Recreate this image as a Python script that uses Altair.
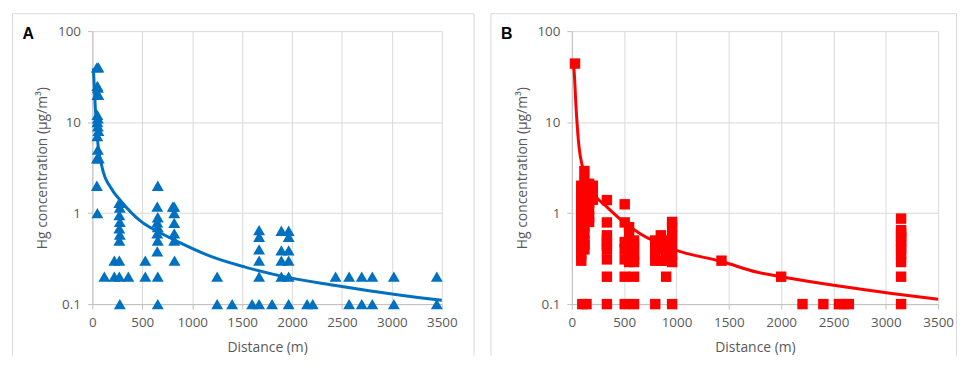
import altair as alt
import pandas as pd

# ---------------- Panel A (blue triangles) ----------------
A_dist = [45, 60, 50, 55, 50, 60, 50, 55, 50, 55, 60, 50, 55, 45, 65, 45, 50,
          120, 220, 220, 270, 270, 275, 270, 275, 270, 275, 270, 275, 270, 360,
          530, 530, 655, 650, 655, 650, 655, 650, 655, 650, 655, 655,
          820, 805, 820, 820, 820, 820, 823,
          1250, 1250, 1400, 1600,
          1670, 1670, 1670, 1670, 1670, 1670,
          1800, 1893, 1893, 1893, 1893, 1966, 1966, 1966, 1966, 1966, 1966,
          2151, 2207, 2436, 2572, 2572, 2698, 2698, 2804, 2804, 3020, 3020, 3450, 3450]
A_hg = [40, 40, 25, 24, 20, 20, 12, 11, 10, 9, 8, 7, 5, 4, 4, 2, 1,
        0.2, 0.3, 0.2, 0.3, 0.2, 0.1, 1.3, 1.15, 0.95, 0.8, 0.68, 0.58, 0.5, 0.2,
        0.3, 0.2, 2.0, 1.18, 0.9, 0.79, 0.7, 0.6, 0.5, 0.38, 0.2, 0.1,
        1.18, 1.18, 1.0, 0.78, 0.6, 0.5, 0.3,
        0.2, 0.1, 0.1, 0.1,
        0.65, 0.55, 0.4, 0.3, 0.2, 0.1,
        0.1, 0.64, 0.39, 0.3, 0.2, 0.64, 0.55, 0.39, 0.3, 0.2, 0.1,
        0.1, 0.1, 0.2, 0.2, 0.1, 0.2, 0.1, 0.2, 0.1, 0.2, 0.1, 0.2, 0.1]
A_fit_dist = [10, 30, 53, 100, 185, 285, 500, 665, 865, 1200, 1530, 1860, 2420, 3090, 3500]
A_fit_hg = [39, 14, 6.2, 3.1, 1.9, 1.36, 0.79, 0.62, 0.48, 0.33, 0.255, 0.207, 0.161, 0.125, 0.11]

# ---------------- Panel B (red squares) ----------------
B_dist = ([30]
          + [90] * 18 + [100]
          + [120] * 15 + [140]
          + [165] * 8 + [200] * 4
          + [335] * 9
          + [505] * 7
          + [547] * 6
          + [594] * 8
          + [797] * 6
          + [850] * 5
          + [901] * 6
          + [958] * 7
          + [1430, 2000, 2204, 2403, 2552, 2600, 2647]
          + [3146] * 11)
B_hg = ([44]
        + [2.0, 1.8, 1.6, 1.4, 1.2, 1.1, 1.0, 0.9, 0.8, 0.7, 0.65, 0.6, 0.55, 0.5, 0.45, 0.4, 0.35, 0.3] + [0.1]
        + [2.9, 2.25, 1.9, 1.7, 1.5, 1.3, 1.1, 1.0, 0.9, 0.8, 0.7, 0.6, 0.5, 0.45, 0.4] + [0.1]
        + [2.1, 1.9, 1.7, 1.5, 1.3, 1.1, 0.9, 0.8] + [2.0, 1.8, 1.6, 1.4]
        + [1.39, 0.79, 0.57, 0.5, 0.45, 0.4, 0.31, 0.2, 0.1]
        + [1.25, 0.79, 0.48, 0.4, 0.31, 0.2, 0.1]
        + [0.7, 0.6, 0.48, 0.4, 0.31, 0.29]
        + [0.5, 0.45, 0.4, 0.35, 0.31, 0.29, 0.2, 0.1]
        + [0.5, 0.45, 0.4, 0.35, 0.3, 0.1]
        + [0.57, 0.5, 0.45, 0.4, 0.3]
        + [0.5, 0.45, 0.4, 0.35, 0.3, 0.2]
        + [0.8, 0.7, 0.57, 0.45, 0.35, 0.29, 0.1]
        + [0.3, 0.2, 0.1, 0.1, 0.1, 0.1, 0.1]
        + [0.87, 0.65, 0.6, 0.55, 0.5, 0.45, 0.4, 0.35, 0.29, 0.2, 0.1])
B_fit_dist = [6, 19, 41, 63, 120, 215, 341, 500, 657, 974, 1448, 1764, 2000, 2583, 3057, 3500]
B_fit_hg = [44, 39, 14, 6.2, 2.7, 1.6, 1.15, 0.79, 0.59, 0.40, 0.29, 0.225, 0.2, 0.156, 0.131, 0.113]

x_ticks = [0, 500, 1000, 1500, 2000, 2500, 3000, 3500]
y_ticks = [0.1, 1, 10, 100]

FONT = "Open Sans"
LABEL_COLOR = "#595959"
GRID = "#d9d9d9"


def panel(letter, dist, hg, fit_d, fit_h, color, shape, size, width, height, box):
    pts = pd.DataFrame({"d": dist, "h": hg})
    fit = pd.DataFrame({"d": fit_d, "h": fit_h})
    one = pd.DataFrame({"t": [letter]})
    left, right, top, bottom = box

    xenc = alt.X("d:Q", scale=alt.Scale(domain=[0, 3500], nice=False),
                 axis=alt.Axis(values=x_ticks, format="d", title="Distance (m)",
                               titleY=44, titleBaseline="middle", labelFlush=False))
    yenc = alt.Y("h:Q", scale=alt.Scale(type="log", domain=[0.1, 100], nice=False),
                 axis=alt.Axis(values=y_ticks, format="~g",
                               title="Hg concentration (µg/m³)",
                               titleX=-50, titleY=height / 2,
                               titleAngle=-90, titleAlign="center",
                               titleBaseline="middle", labelFlush=False))

    scatter = alt.Chart(pts).mark_point(shape=shape, filled=True, size=size,
                                        color=color, opacity=1).encode(x=xenc, y=yenc)
    line = alt.Chart(fit).mark_line(color=color, strokeWidth=3,
                                    interpolate="monotone").encode(x="d:Q", y="h:Q")
    frame_color = "#d9d9d9"
    top_rule = alt.Chart(one).mark_rule(color=frame_color, strokeWidth=1).encode(
        x=alt.value(left), x2=alt.value(right), y=alt.value(top))
    left_rule = alt.Chart(one).mark_rule(color=frame_color, strokeWidth=1).encode(
        x=alt.value(left), y=alt.value(top), y2=alt.value(bottom))
    right_rule = alt.Chart(one).mark_rule(color=frame_color, strokeWidth=1).encode(
        x=alt.value(right), y=alt.value(top), y2=alt.value(bottom))
    label = alt.Chart(one).mark_text(font="Liberation Sans", fontSize=16,
                                     fontWeight="bold", color="black",
                                     align="center", baseline="middle").encode(
        text="t:N", x=alt.value(left + 16), y=alt.value(3))
    return alt.layer(top_rule, left_rule, right_rule, scatter, line, label).properties(
        width=width, height=height)


chart_a = panel("A", A_dist, A_hg, A_fit_dist, A_fit_hg, "#0070C0",
                "triangle-up", 144, 352, 275, (-80.5, 384.5, -17.5, 327))
chart_b = panel("B", B_dist, B_hg, B_fit_dist, B_fit_hg, "#FF0000",
                "square", 110, 369, 275, (-81.5, 387.5, -17.5, 327))

chart = alt.hconcat(chart_a, chart_b, spacing=16).properties(
    padding={"left": 4, "top": 4, "right": 0, "bottom": 0},
    background="white"
).configure_view(stroke=None).configure_axis(
    labelFont=FONT, titleFont=FONT, labelFontSize=13.5, titleFontSize=14,
    labelColor=LABEL_COLOR, titleColor=LABEL_COLOR, titleFontWeight="normal",
    gridColor=GRID, gridWidth=1, domainColor="#bfbfbf", tickColor="#bfbfbf",
    tickSize=5, labelPadding=7
)

chart.save("out.html", embed_options={"renderer": "svg", "actions": False})
